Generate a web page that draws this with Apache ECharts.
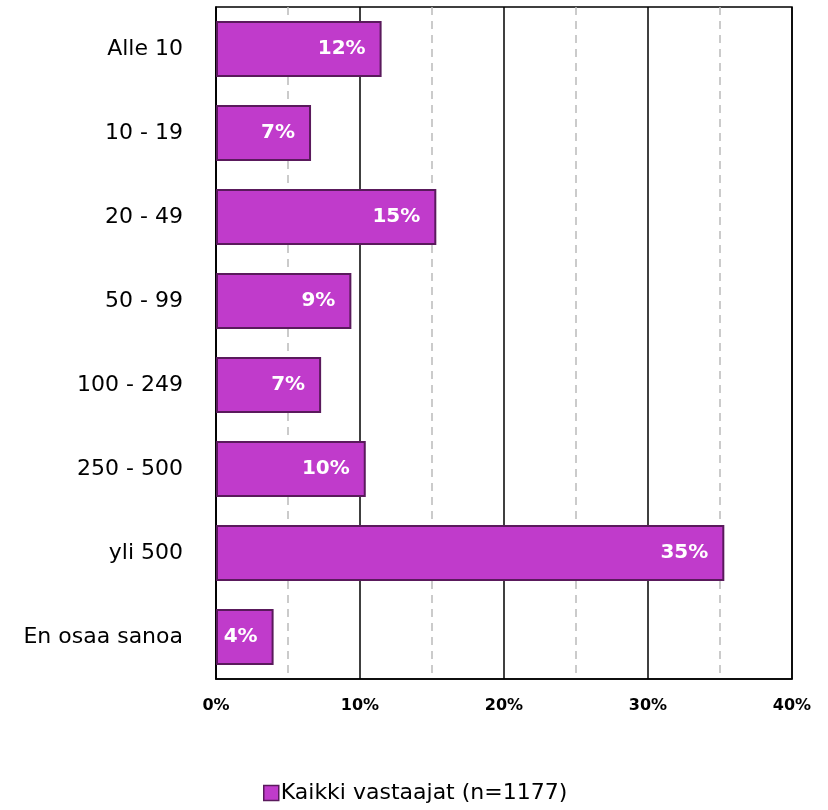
<!DOCTYPE html>
<html>
<head>
<meta charset="utf-8">
<script src="https://cdn.jsdelivr.net/npm/echarts@6/dist/echarts.min.js"></script>
<style>
  html, body { margin: 0; padding: 0; background: #fff; }
  #chart { width: 828px; height: 810px; }
</style>
</head>
<body>
<div id="chart"></div>
<script>
// kategoriat ylhäältä alas
var categories = ["Alle 10", "10 - 19", "20 - 49", "50 - 99", "100 - 249", "250 - 500", "yli 500", "En osaa sanoa"];
var values = [11.5, 6.6, 15.3, 9.4, 7.3, 10.4, 35.3, 4.0];
var labels = ["12%", "7%", "15%", "9%", "7%", "10%", "35%", "4%"];
var seriesName = "Kaikki vastaajat (n=1177)";

var chart = echarts.init(document.getElementById("chart"));
var font = "DejaVu Sans";

var option = {
  backgroundColor: "#fff",
  animation: false,
  grid: {
    left: 216, right: 36, top: 7, bottom: 131,
    show: true, borderColor: "#000", borderWidth: 1.5
  },
  legend: {
    bottom: 1,
    left: 258,
    icon: "rect",
    itemWidth: 15,
    itemHeight: 15,
    itemGap: 6,
    itemStyle: { borderColor: "#5a1a5c", borderWidth: 1.5 },
    textStyle: { fontFamily: font, fontSize: 22, color: "#000", padding: [0, 0, 0, -3] },
    data: [seriesName]
  },
  xAxis: {
    type: "value",
    min: 0, max: 40, interval: 10,
    axisLine: { show: true, lineStyle: { color: "#000", width: 1.5 } },
    axisTick: { show: false },
    axisLabel: {
      formatter: "{value}%", fontFamily: font, fontWeight: "bold",
      fontSize: 16, color: "#000", margin: 19
    },
    splitLine: { show: true, lineStyle: { color: "#000", width: 1.5 } },
    minorTick: { show: false, splitNumber: 2 },
    minorSplitLine: { show: true, lineStyle: { color: "#bbb", width: 1.5, type: [8, 6] } }
  },
  yAxis: {
    type: "category",
    inverse: true,
    data: categories,
    axisLine: { show: true, lineStyle: { color: "#000", width: 1.5 } },
    axisTick: { show: false },
    axisLabel: { fontFamily: font, fontSize: 22, color: "#000", margin: 33 }
  },
  series: [{
    name: seriesName,
    type: "bar",
    barWidth: 56,
    data: values,
    itemStyle: { color: "#c03bcb", borderColor: "#5a1a5c", borderWidth: 2 },
    label: {
      show: true,
      position: "insideRight",
      distance: 16,
      color: "#fff",
      fontFamily: font,
      fontWeight: "bold",
      fontSize: 20,
      formatter: function (p) { return labels[p.dataIndex]; }
    }
  }]
};

chart.setOption(option);
</script>
</body>
</html>
